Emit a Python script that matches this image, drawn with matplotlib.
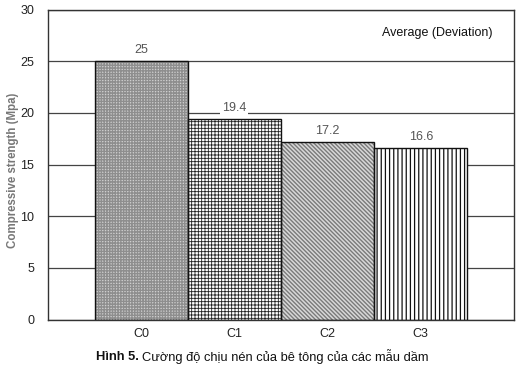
import matplotlib
matplotlib.use("Agg")
import matplotlib.pyplot as plt

categories = ["C0", "C1", "C2", "C3"]
strength = [25, 19.4, 17.2, 16.6]
value_labels = ["25", "19.4", "17.2", "16.6"]
y_ticks = [0, 5, 10, 15, 20, 25, 30]

plt.rcParams["font.family"] = ["Liberation Sans", "DejaVu Sans"]

fig = plt.figure(figsize=(5.2, 3.72), dpi=100)
ax = fig.add_axes([48 / 520, 1 - 319.7 / 372, 466 / 520, 310.2 / 372])

x = list(range(len(categories)))
styles = [
    dict(face="#cfcfcf", hatch="++++++", hcol="#8e8e8e", lw=1.0),
    dict(face="white", hatch="+++++", hcol="#222222", lw=0.6),
    dict(face="#d8d8d8", hatch="\\\\\\\\\\\\\\\\", hcol="#7a7a7a", lw=1.0),
    dict(face="white", hatch="||||", hcol="#111111", lw=0.9),
]
for xi, v, st in zip(x, strength, styles):
    with plt.rc_context({"hatch.linewidth": st["lw"]}):
        b = ax.bar(xi, v, width=1.0, color=st["face"], edgecolor=st["hcol"],
                   hatch=st["hatch"], linewidth=0, zorder=2)
        for p in b:
            if hasattr(p, "set_hatch_linewidth"):
                p.set_hatch_linewidth(st["lw"])
    ax.bar(xi, v, width=1.0, fill=False, edgecolor="#111111",
           linewidth=1.0, zorder=3)

for xi, v, lab in zip(x, strength, value_labels):
    ax.annotate(lab, (xi, v), xytext=(0, 3.5), textcoords="offset points",
                ha="center", va="bottom", fontsize=9, color="#555555",
                bbox=dict(boxstyle="square,pad=0.15", fc="white", ec="none"),
                zorder=4)

ax.set_xlim(-1, 4)
ax.set_ylim(0, 30)
ax.set_yticks(y_ticks)
ax.set_xticks(x)
ax.set_xticklabels(categories)
ax.tick_params(axis="both", length=0, labelsize=9, colors="#222222")
ax.tick_params(axis="x", pad=6)
ax.tick_params(axis="y", pad=10)
ax.yaxis.grid(True, color="#444444", linewidth=0.9, zorder=1)
ax.set_axisbelow(True)
for s in ax.spines.values():
    s.set_color("#333333")
    s.set_linewidth(1.0)

ax.text(0.953, 0.925, "Average (Deviation)", transform=ax.transAxes,
        ha="right", va="center", fontsize=9, color="#111111")

fig.text(13 / 520, 1 - 170 / 372, "Compressive strength (Mpa)", rotation=90,
         ha="center", va="center", fontsize=8.3, fontweight="bold",
         color="#777777")

# Caption: bold figure number followed by regular text
narrow = ["Liberation Sans Narrow", "Liberation Sans", "DejaVu Sans"]
cap_y = 1 - 357 / 372
t1 = fig.text(96 / 520, cap_y, "Hình 5.", family=narrow, fontweight="bold",
              fontsize=9.3, ha="left", va="center", color="#111111")
fig.canvas.draw()
bb = t1.get_window_extent()
fig.text((bb.x1 + 3) / 520, cap_y,
         "Cường độ chịu nén của bê tông của các mẫu dầm", family=narrow,
         fontsize=9.3, ha="left", va="center", color="#111111")

fig.savefig("out.png", dpi=100)
